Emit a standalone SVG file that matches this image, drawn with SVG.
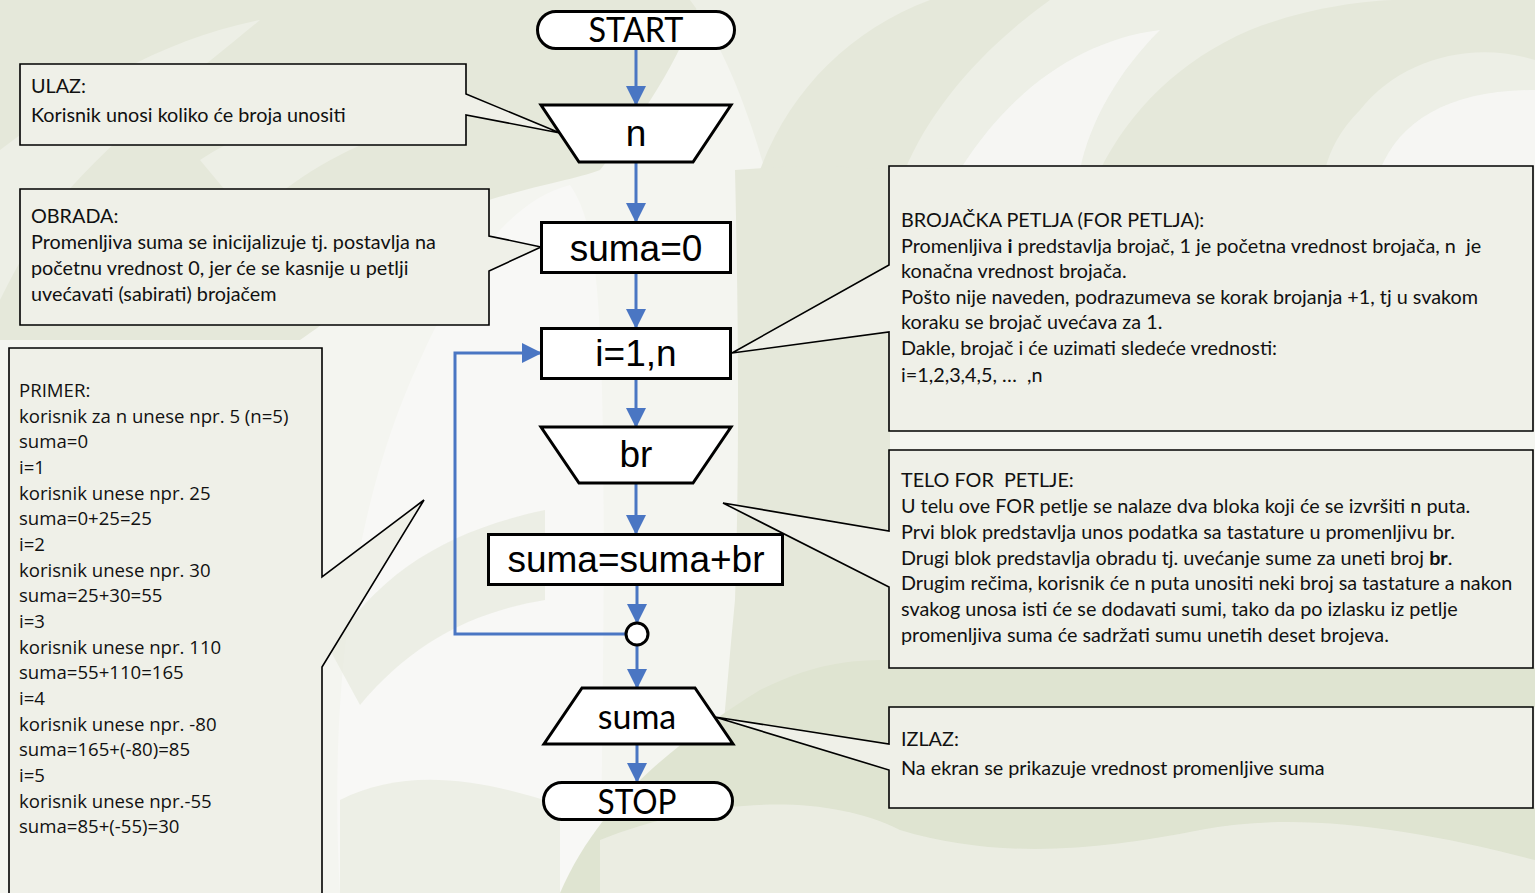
<svg xmlns="http://www.w3.org/2000/svg" width="1535" height="893" viewBox="0 0 1535 893">
<style>
.bg1{fill:#e5e8da}
.bg2{fill:#edefe6}
.bg3{fill:#f8f8f6}
.bg4{fill:#dfe4d1}
.node{fill:#ffffff;stroke:#000000;stroke-width:3;stroke-linejoin:miter}
.call{fill:#eff0e8;stroke:#000000;stroke-width:1.6;stroke-linejoin:miter}
.conn{stroke:#4a76c3;stroke-width:3;fill:none}
.ct{font-family:Lato,"Carlito","Noto Sans",sans-serif;font-size:19.8px;fill:#111;white-space:pre}
.pt{font-family:"Open Sans","Noto Sans",sans-serif;font-size:18.6px;fill:#111}
.na{font-family:"Liberation Sans",Arial,sans-serif;font-size:37px;fill:#000;text-anchor:middle}
.nc{font-family:Lato,"Carlito",sans-serif;font-size:34px;fill:#000;text-anchor:middle}
</style>
<defs>
<marker id="ah" markerUnits="userSpaceOnUse" markerWidth="20" markerHeight="20" refX="19" refY="10" orient="auto">
<path d="M0,0 L20,10 L0,20 Z" fill="#4a76c3"/>
</marker>
</defs>
<g id="background">
<rect x="0" y="0" width="1535" height="893" fill="#f4f5f0"/>
<path class="bg1" d="M0,0 H700 C680,60 640,120 600,170 C560,185 470,195 430,230 C380,280 330,320 300,340 H0 Z"/>
<path class="bg2" d="M0,150 C80,90 160,40 260,20 C200,70 120,130 60,200 C30,240 10,280 0,300 Z"/>
<path class="bg2" d="M200,160 C260,120 330,110 400,130 C340,150 290,180 250,220 Z"/>
<path class="bg3" d="M340,893 C330,720 345,520 420,360 C460,270 510,200 570,185 C600,230 610,300 600,893 Z"/>
<path class="bg1" d="M330,650 C380,570 450,530 545,510 L545,600 C470,612 410,645 360,705 Z" opacity="0.6"/>
<path class="bg2" d="M340,800 C400,770 470,775 560,805 L560,893 H340 Z"/>
<path class="bg2" d="M690,0 H1535 V170 H765 C745,100 720,40 690,0 Z"/>
<path class="bg1" d="M760,170 C790,90 850,30 930,0 H1050 C980,50 930,110 905,170 Z"/>
<path class="bg1" d="M1100,170 C1130,110 1180,60 1250,30 C1300,10 1360,0 1400,0 H1535 V60 C1470,40 1400,60 1360,110 C1340,130 1330,150 1325,170 Z"/>
<path class="bg3" d="M960,170 C1010,90 1080,40 1160,30 C1120,70 1090,120 1080,170 Z" opacity="0.8"/>
<path class="bg3" d="M1380,170 C1400,120 1450,90 1535,90 V170 Z" opacity="0.8"/>
<path class="bg1" d="M735,170 C790,165 850,166 890,170 V893 H700 C720,800 725,700 735,600 C740,450 738,300 735,170 Z"/>
<path class="bg4" d="M560,893 C600,800 680,740 760,690 C820,660 860,660 890,660 V893 Z"/>
<path class="bg4" d="M890,808 H1535 V893 H890 Z"/>
<path class="bg2" d="M600,840 C700,800 820,790 900,830 C1000,860 1100,850 1200,830 C1300,810 1420,830 1535,860 V893 H600 Z" opacity="0.8"/>
<path class="bg4" d="M890,668 H1535 V707 H890 Z"/>
</g>
<g id="connectors">
<line class="conn" x1="636" y1="48" x2="636" y2="105" marker-end="url(#ah)"/>
<line class="conn" x1="636" y1="162" x2="636" y2="222" marker-end="url(#ah)"/>
<line class="conn" x1="636" y1="273" x2="636" y2="328" marker-end="url(#ah)"/>
<line class="conn" x1="636" y1="379" x2="636" y2="427" marker-end="url(#ah)"/>
<line class="conn" x1="636" y1="483" x2="636" y2="534" marker-end="url(#ah)"/>
<line class="conn" x1="637" y1="585" x2="637" y2="623" marker-end="url(#ah)"/>
<line class="conn" x1="637" y1="645" x2="637" y2="688" marker-end="url(#ah)"/>
<line class="conn" x1="637" y1="744" x2="637" y2="782" marker-end="url(#ah)"/>
<polyline class="conn" points="626,634 455,634 455,353 541,353" marker-end="url(#ah)"/>
</g>
<g id="callout-ulaz">
<path class="call" d="M20,64 H466 V94 L560,133 L466,115 V145 H20 Z"/>
<text class="ct" x="31" y="93">ULAZ:</text>
<text class="ct" x="31" y="122">Korisnik unosi koliko će broja unositi</text>
</g>
<g id="callout-obrada">
<path class="call" d="M20,189 H489 V236 L541,247 L489,271 V325 H20 Z"/>
<text class="ct" x="31" y="223">OBRADA:</text>
<text class="ct" x="31" y="249">Promenljiva suma se inicijalizuje tj. postavlja na</text>
<text class="ct" x="31" y="275">početnu vrednost 0, jer će se kasnije u petlji</text>
<text class="ct" x="31" y="301">uvećavati (sabirati) brojačem</text>
</g>
<g id="callout-primer">
<path class="call" d="M9,348 H322 V577 L424,500 L322,667 V900 H9 Z"/>
<text class="pt" x="19" y="397">PRIMER:</text>
<text class="pt" x="19" y="423">korisnik za n unese npr. 5 (n=5)</text>
<text class="pt" x="19" y="448">suma=0</text>
<text class="pt" x="19" y="474">i=1</text>
<text class="pt" x="19" y="500">korisnik unese npr. 25</text>
<text class="pt" x="19" y="525">suma=0+25=25</text>
<text class="pt" x="19" y="551">i=2</text>
<text class="pt" x="19" y="577">korisnik unese npr. 30</text>
<text class="pt" x="19" y="602">suma=25+30=55</text>
<text class="pt" x="19" y="628">i=3</text>
<text class="pt" x="19" y="654">korisnik unese npr. 110</text>
<text class="pt" x="19" y="679">suma=55+110=165</text>
<text class="pt" x="19" y="705">i=4</text>
<text class="pt" x="19" y="731">korisnik unese npr. -80</text>
<text class="pt" x="19" y="756">suma=165+(-80)=85</text>
<text class="pt" x="19" y="782">i=5</text>
<text class="pt" x="19" y="808">korisnik unese npr.-55</text>
<text class="pt" x="19" y="833">suma=85+(-55)=30</text>
</g>
<g id="callout-brojacka">
<path class="call" d="M889,166 H1533 V431 H889 V332 L732,353 L889,265 Z"/>
<text class="ct" x="901" y="227">BROJAČKA PETLJA (FOR PETLJA):</text>
<text class="ct" x="901" y="253">Promenljiva <tspan font-weight="bold">i</tspan> predstavlja brojač, 1 je početna vrednost brojača, n  je</text>
<text class="ct" x="901" y="278">konačna vrednost brojača.</text>
<text class="ct" x="901" y="304">Pošto nije naveden, podrazumeva se korak brojanja +1, tj u svakom</text>
<text class="ct" x="901" y="329">koraku se brojač uvećava za 1.</text>
<text class="ct" x="901" y="355">Dakle, brojač i će uzimati sledeće vrednosti:</text>
<text class="ct" x="901" y="382">i=1,2,3,4,5, …  ,n</text>
</g>
<g id="callout-telo">
<path class="call" d="M889,450 H1533 V668 H889 V587 L723,503 L889,531 Z"/>
<text class="ct" x="901" y="487">TELO FOR  PETLJE:</text>
<text class="ct" x="901" y="513">U telu ove FOR petlje se nalaze dva bloka koji će se izvršiti n puta.</text>
<text class="ct" x="901" y="539">Prvi blok predstavlja unos podatka sa tastature u promenljivu br.</text>
<text class="ct" x="901" y="565">Drugi blok predstavlja obradu tj. uvećanje sume za uneti broj <tspan font-weight="bold">br</tspan>.</text>
<text class="ct" x="901" y="590">Drugim rečima, korisnik će n puta unositi neki broj sa tastature a nakon</text>
<text class="ct" x="901" y="616">svakog unosa isti će se dodavati sumi, tako da po izlasku iz petlje</text>
<text class="ct" x="901" y="642">promenljiva suma će sadržati sumu unetih deset brojeva.</text>
</g>
<g id="callout-izlaz">
<path class="call" d="M889,707 H1533 V808 H889 V770 L715,717 L889,744 Z"/>
<text class="ct" x="901" y="746">IZLAZ:</text>
<text class="ct" x="901" y="775">Na ekran se prikazuje vrednost promenljive suma</text>
</g>
<g id="node-start">
<rect class="node" x="537.5" y="11.5" width="197" height="37" rx="18.5"/>
<text class="nc" x="636" y="42" textLength="95" lengthAdjust="spacingAndGlyphs">START</text>
</g>
<g id="node-n">
<polygon class="node" points="541,105 731,105 693,162 579,162"/>
<text class="na" x="636" y="146" font-size="34">n</text>
</g>
<g id="node-suma0">
<rect class="node" x="541.5" y="222.5" width="189" height="50"/>
<text class="na" x="636" y="261">suma=0</text>
</g>
<g id="node-for">
<rect class="node" x="541.5" y="328.5" width="189" height="50"/>
<text class="na" x="636" y="366">i=1,n</text>
</g>
<g id="node-br">
<polygon class="node" points="541,427 731,427 693,483 579,483"/>
<text class="na" x="636" y="467" font-size="35">br</text>
</g>
<g id="node-sum">
<rect class="node" x="488.5" y="534.5" width="294" height="50"/>
<text class="na" x="636" y="572">suma=suma+br</text>
</g>
<g id="node-join">
<circle class="node" cx="637" cy="634" r="11" stroke-width="2.5"/>
</g>
<g id="node-out">
<polygon class="node" points="582,688 695,688 733,744 544,744"/>
<text class="nc" x="637" y="729" font-size="33">suma</text>
</g>
<g id="node-stop">
<rect class="node" x="543.5" y="782.5" width="189" height="37" rx="18.5"/>
<text class="nc" x="637" y="814" textLength="79" lengthAdjust="spacingAndGlyphs">STOP</text>
</g>
</svg>
